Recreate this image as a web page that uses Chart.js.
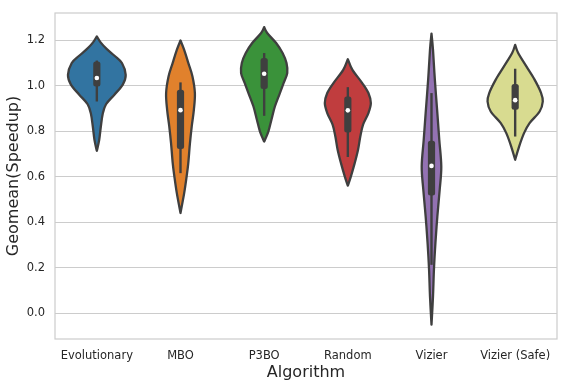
<!DOCTYPE html>
<html>
<head>
<meta charset="utf-8">
<script src="https://cdn.jsdelivr.net/npm/chart.js@4/dist/chart.umd.min.js"></script>
<style>
  html, body { margin: 0; padding: 0; background: #fff; }
  #wrap { width: 570px; height: 388px; }
</style>
</head>
<body>
<div id="wrap"><canvas id="chart"></canvas></div>
<script>
var algorithms = ['Evolutionary', 'MBO', 'P3BO', 'Random', 'Vizier', 'Vizier (Safe)'];
var yTicks = [0.0, 0.2, 0.4, 0.6, 0.8, 1.0, 1.2];

// violin outlines: y values and half width (share of one category slot)
var evoY = [1.216, 1.19, 1.16, 1.13, 1.099, 1.047, 1.004, 0.96, 0.918, 0.875, 0.82, 0.76, 0.713];
var evoW = [0, 0.045, 0.12, 0.215, 0.3, 0.345, 0.31, 0.21, 0.11, 0.07, 0.048, 0.028, 0];
var mboY = [1.198, 1.157, 1.099, 1.04, 0.967, 0.894, 0.82, 0.747, 0.659, 0.6, 0.527, 0.44];
var mboW = [0, 0.044, 0.094, 0.143, 0.172, 0.16, 0.134, 0.113, 0.093, 0.073, 0.044, 0];
var p3boY = [1.257, 1.231, 1.187, 1.143, 1.099, 1.055, 1.011, 0.967, 0.908, 0.85, 0.798, 0.754];
var p3boW = [0, 0.036, 0.143, 0.22, 0.267, 0.276, 0.232, 0.188, 0.128, 0.087, 0.05, 0];
var randomY = [1.116, 1.069, 1.011, 0.967, 0.923, 0.879, 0.828, 0.776, 0.718, 0.659, 0.6, 0.56];
var randomW = [0, 0.055, 0.172, 0.246, 0.275, 0.246, 0.182, 0.149, 0.122, 0.082, 0.036, 0];
var vizierY = [1.228, 1.157, 1.026, 0.879, 0.762, 0.644, 0.542, 0.425, 0.308, 0.19, 0.073, -0.051];
var vizierW = [0, 0.018, 0.04, 0.07, 0.093, 0.117, 0.098, 0.07, 0.047, 0.029, 0.018, 0];
var safeY = [1.179, 1.143, 1.084, 1.026, 0.967, 0.93, 0.886, 0.835, 0.791, 0.732, 0.674];
var safeW = [0, 0.036, 0.134, 0.232, 0.31, 0.33, 0.292, 0.172, 0.106, 0.047, 0];

// inner box stats
var q1 = [0.996, 0.721, 0.985, 0.794, 0.517, 0.894];
var median = [1.033, 0.892, 1.052, 0.891, 0.647, 0.936];
var q3 = [1.106, 0.982, 1.121, 0.952, 0.757, 1.007];
var whiskerLow = [0.930, 0.615, 0.867, 0.686, 0.212, 0.776];
var whiskerHigh = [1.11, 1.014, 1.143, 0.993, 0.967, 1.074];

var violinYs = [evoY, mboY, p3boY, randomY, vizierY, safeY];
var violinWs = [evoW, mboW, p3boW, randomW, vizierW, safeW];
var colors = ['#3274a1', '#e1812c', '#3a923a', '#c03d3e', '#9372b2', '#d8db90'];
var edge = '#3f3f3f';

// catmull-rom through a list of points
function smoothPath(ctx, pts, first) {
  for (var i = 0; i < pts.length - 1; i++) {
    var p0 = pts[i - 1] || pts[i];
    var p1 = pts[i];
    var p2 = pts[i + 1];
    var p3 = pts[i + 2] || p2;
    if (i == 0 && first) ctx.moveTo(p1.x, p1.y);
    ctx.bezierCurveTo(
      p1.x + (p2.x - p0.x) / 6, p1.y + (p2.y - p0.y) / 6,
      p2.x - (p3.x - p1.x) / 6, p2.y - (p3.y - p1.y) / 6,
      p2.x, p2.y);
  }
}

var violinPlugin = {
  id: 'violins',
  afterDatasetsDraw(chart) {
    const ctx = chart.ctx;
    const xs = chart.scales.x;
    const ys = chart.scales.y;
    const slot = xs.getPixelForValue(1) - xs.getPixelForValue(0);
    algorithms.forEach((name, i) => {
      const cx = xs.getPixelForValue(i);
      const yv = violinYs[i];
      const wv = violinWs[i];
      const right = yv.map((v, k) => ({x: cx + wv[k] * slot, y: ys.getPixelForValue(v)}));
      const left = yv.map((v, k) => ({x: cx - wv[k] * slot, y: ys.getPixelForValue(v)})).reverse();
      ctx.save();
      ctx.beginPath();
      smoothPath(ctx, right, true);
      smoothPath(ctx, left, false);
      ctx.closePath();
      ctx.fillStyle = colors[i];
      ctx.fill();
      ctx.lineWidth = 2.3;
      ctx.lineJoin = 'round';
      ctx.strokeStyle = edge;
      ctx.stroke();

      // whisker
      ctx.beginPath();
      ctx.moveTo(cx, ys.getPixelForValue(whiskerHigh[i]));
      ctx.lineTo(cx, ys.getPixelForValue(whiskerLow[i]));
      ctx.lineWidth = 2.4;
      ctx.lineCap = 'butt';
      ctx.stroke();

      // box
      const top = ys.getPixelForValue(q3[i]);
      const bot = ys.getPixelForValue(q1[i]);
      ctx.beginPath();
      ctx.roundRect(cx - 3.6, top, 7.2, bot - top, 2.5);
      ctx.fillStyle = edge;
      ctx.fill();

      // median
      ctx.beginPath();
      ctx.arc(cx, ys.getPixelForValue(median[i]), 2.3, 0, Math.PI * 2);
      ctx.fillStyle = '#ffffff';
      ctx.fill();
      ctx.restore();
    });
  },
};

var frame = {
  id: 'frame',
  afterDraw(chart) {
    const a = chart.chartArea;
    const ctx = chart.ctx;
    ctx.save();
    ctx.strokeStyle = '#cccccc';
    ctx.lineWidth = 1.2;
    ctx.strokeRect(a.left, a.top, a.right - a.left, a.bottom - a.top);
    ctx.restore();
  },
};

new Chart(document.getElementById('chart'), {
  type: 'bar',
  data: {
    labels: algorithms,
    datasets: [{data: algorithms.map(() => null)}],
  },
  options: {
    responsive: true,
    maintainAspectRatio: false,
    animation: false,
    events: [],
    layout: {padding: {top: 13, right: 13, left: 0, bottom: 0}},
    plugins: {legend: {display: false}, tooltip: {enabled: false}},
    scales: {
      x: {
        grid: {display: false},
        border: {display: false},
        ticks: {color: '#262626', padding: 2, font: {family: 'DejaVu Sans', size: 11.5}, maxRotation: 0, autoSkip: false},
        title: {display: true, text: 'Algorithm', color: '#262626', padding: {top: 0, bottom: 6}, font: {family: 'DejaVu Sans', size: 16}},
        afterFit(scale) { scale.height = 49; scale.paddingLeft = 0; scale.paddingRight = 0; },
      },
      y: {
        min: -0.114,
        max: 1.319,
        afterBuildTicks(scale) { scale.ticks = yTicks.map((v) => ({value: v})); },
        grid: {color: '#cccccc', lineWidth: 1.1, drawTicks: false},
        border: {display: false},
        ticks: {color: '#262626', padding: 10, font: {family: 'DejaVu Sans', size: 11.5},
          callback: (v) => Number(v).toFixed(1)},
        title: {display: true, text: 'Geomean(Speedup)', color: '#262626', padding: {bottom: 6}, font: {family: 'DejaVu Sans', size: 16}},
        afterFit(scale) { scale.width = 55; scale.paddingTop = 0; scale.paddingBottom = 0; },
      },
    },
  },
  plugins: [violinPlugin, frame],
});
</script>
</body>
</html>
